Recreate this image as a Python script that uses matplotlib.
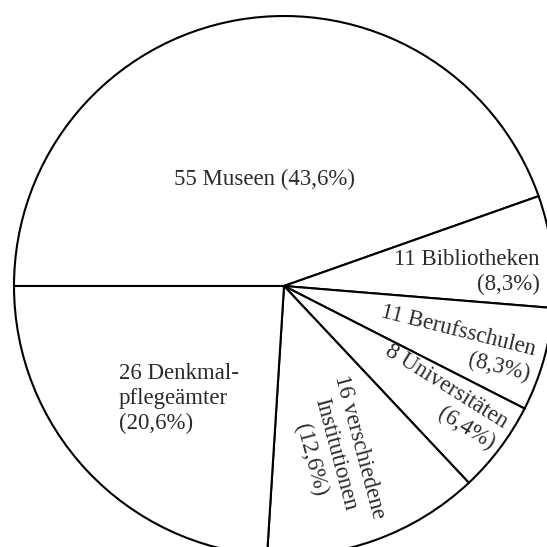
import numpy as np
import matplotlib
matplotlib.use("Agg")
import matplotlib.pyplot as plt

# data
names = ["Museen", "Bibliotheken", "Berufsschulen", "Universitäten",
         "verschiedene Institutionen", "Denkmalpflegeämter"]
counts = [55, 11, 11, 8, 16, 26]
pct_labels = ["43,6", "8,3", "8,3", "6,4", "12,6", "20,6"]
# wedge sizes as they are drawn in the scan (percent of the circle)
drawn_share = [44.6, 6.7, 6.2, 5.5, 13.0, 24.0]

label_texts = [
    "55 Museen (43,6%)",
    "11 Bibliotheken\n(8,3%)",
    "11 Berufsschulen\n(8,3%)",
    "8 Universitäten\n(6,4%)",
    "16 verschiedene\nInstitutionen\n(12,6%)",
    "26 Denkmal-\npflegeämter\n(20,6%)",
]
# label placement: angle (deg), fraction of radius, rotation, alignment
label_pos = [
    (100.6, 0.40, 0, "center"),
    (4.4, 0.68, 0, "right"),
    (-18.5, 0.67, -14, "right"),
    (-35.5, 0.71, -32, "right"),
    (-73.1, 0.65, -75, "center"),
    (226.8, 0.57, 0, "left"),
]

W = 547
cx, cy, R = 284, W - 286, 270

fig = plt.figure(figsize=(5.47, 5.47), dpi=100)
ax = fig.add_axes([0, 0, 1, 1])
ax.pie(drawn_share, startangle=180, counterclock=False, center=(cx, cy), radius=R,
       wedgeprops=dict(facecolor="white", edgecolor="black", linewidth=1.5))
ax.set_xlim(0, W)
ax.set_ylim(0, W)
ax.set_aspect("equal")
ax.axis("off")

for txt, (ang, rf, rot, ma) in zip(label_texts, label_pos):
    a = np.deg2rad(ang)
    x = cx + rf * R * np.cos(a)
    y = cy + rf * R * np.sin(a)
    ax.text(x, y, txt, ha="center", va="center", rotation=rot, rotation_mode="anchor",
            multialignment=ma, fontsize=16.5, family="Liberation Serif",
            color="#2b2b2b", linespacing=1.25)

fig.savefig("out.png", dpi=100, facecolor="white")
